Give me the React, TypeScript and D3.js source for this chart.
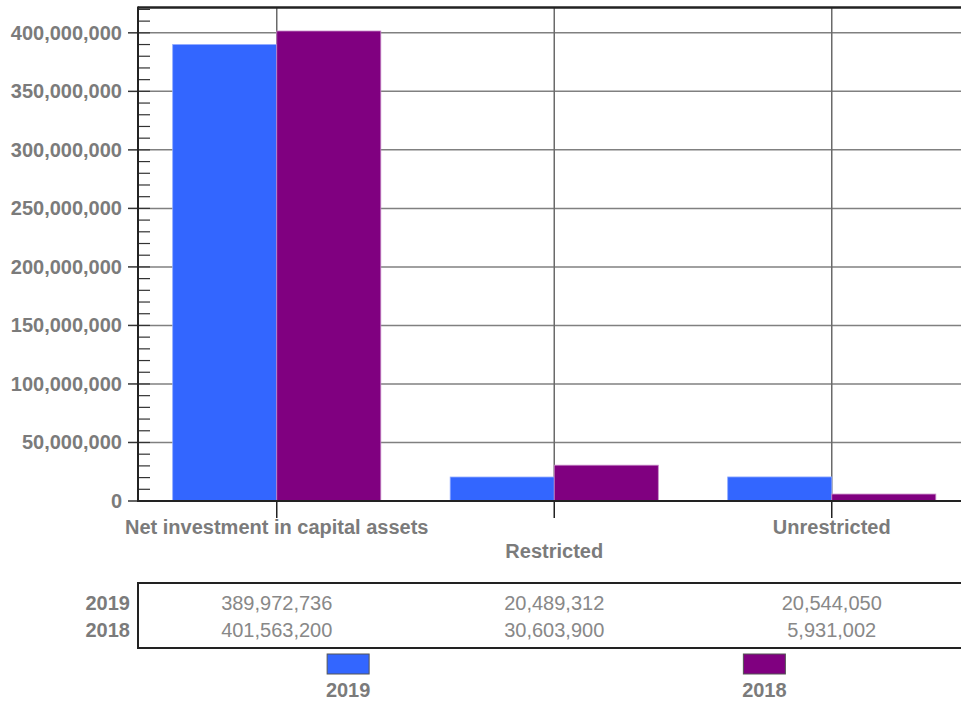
import React from "react";
import * as d3 from "d3";

const categories = ["Net investment in capital assets", "Restricted", "Unrestricted"];
const seriesNames = ["2019", "2018"];
const values2019 = [389972736, 20489312, 20544050];
const values2018 = [401563200, 30603900, 5931002];
const seriesColors = ["#3366FF", "#800080"];
const yTicks = [0, 50000000, 100000000, 150000000, 200000000, 250000000, 300000000, 350000000, 400000000];

const W = 961;
const H = 701;
const left = 138;
const top = 7.5;
const bottom = 501;
const plotRight = 970.5;
const labelColor = "#7b7b7b";
const font = "'Liberation Sans', Arial, sans-serif";

export default function App() {
  const series = [values2019, values2018];
  const maxV = d3.max(series.flat()) as number;
  const y = d3.scaleLinear().domain([0, maxV * 1.05]).range([bottom, top]);
  const x0 = d3.scaleBand<string>().domain(categories).range([left, plotRight]).paddingInner(0).paddingOuter(0);
  const groupPad = 0.125;
  const x1 = d3
    .scaleBand<string>()
    .domain(seriesNames)
    .range([x0.bandwidth() * groupPad, x0.bandwidth() * (1 - groupPad)]);
  const minorTicks = d3.range(0, maxV * 1.05, 10000000);
  const fmt = d3.format(",");
  const center = (c: string) => (x0(c) as number) + x0.bandwidth() / 2;
  const legendX = (i: number) => left + (plotRight - left) * (0.25 + i * 0.5) + 2;

  return (
    <svg
      width={W}
      height={H}
      style={{ position: "absolute", left: 0, top: 0, background: "#fff" }}
      fontFamily={font}
    >
      {/* horizontal gridlines */}
      {yTicks.map((t) => (
        <line key={"g" + t} x1={left} x2={W} y1={y(t)} y2={y(t)} stroke="#808080" strokeWidth={1.5} />
      ))}
      {/* vertical gridlines */}
      {categories.map((c) => (
        <line key={"v" + c} x1={center(c)} x2={center(c)} y1={top} y2={bottom} stroke="#6a6a6a" strokeWidth={1.5} />
      ))}
      {/* bars */}
      {categories.map((c, ci) => (
        <g key={"b" + c} transform={`translate(${x0(c)},0)`}>
          {seriesNames.map((s, si) => (
            <rect
              key={s}
              x={x1(s)}
              y={y(series[si][ci])}
              width={x1.bandwidth()}
              height={bottom - y(series[si][ci])}
              fill={seriesColors[si]}
              stroke={si === 0 ? "#8fa9ff" : "#c68ac6"}
              strokeWidth={0.8}
            />
          ))}
        </g>
      ))}
      {/* minor ticks */}
      {minorTicks.map((t) => (
        <line key={"m" + t} x1={left} x2={left + 12} y1={y(t)} y2={y(t)} stroke="#333" strokeWidth={1.2} />
      ))}
      {/* major ticks */}
      {yTicks.map((t) => (
        <line key={"t" + t} x1={left - 10} x2={left} y1={y(t)} y2={y(t)} stroke="#333" strokeWidth={1.5} />
      ))}
      {/* y labels */}
      {yTicks.map((t) => (
        <text
          key={"l" + t}
          x={122}
          y={y(t) + 7}
          textAnchor="end"
          fontSize={20}
          fontWeight="bold"
          fill={labelColor}
        >
          {fmt(t)}
        </text>
      ))}
      {/* axes */}
      <line x1={left} x2={W} y1={top} y2={top} stroke="#222" strokeWidth={2.5} />
      <line x1={left} x2={left} y1={top - 1} y2={bottom + 1} stroke="#222" strokeWidth={2} />
      <line x1={left} x2={W} y1={bottom} y2={bottom} stroke="#222" strokeWidth={2} />
      {/* x ticks & labels */}
      {categories.map((c, i) => (
        <g key={"x" + c}>
          <line x1={center(c)} x2={center(c)} y1={bottom} y2={518} stroke="#222" strokeWidth={1.5} />
          <text
            x={center(c)}
            y={i % 2 === 1 ? 558 : 534}
            textAnchor="middle"
            fontSize={20}
            fontWeight="bold"
            fill={labelColor}
          >
            {c}
          </text>
        </g>
      ))}
      {/* data table */}
      <rect x={left} y={583} width={W} height={65} fill="none" stroke="#222" strokeWidth={2} />
      {seriesNames.map((s, si) => (
        <g key={"r" + s}>
          <text x={130} y={610 + si * 27} textAnchor="end" fontSize={20} fontWeight="bold" fill={labelColor}>
            {s}
          </text>
          {categories.map((c, ci) => (
            <text key={c} x={center(c)} y={610 + si * 27} textAnchor="middle" fontSize={20} fill="#888">
              {fmt(series[si][ci])}
            </text>
          ))}
        </g>
      ))}
      {/* legend */}
      {seriesNames.map((s, si) => (
        <g key={"lg" + s}>
          <rect
            x={legendX(si) - 21}
            y={654}
            width={42}
            height={20}
            fill={seriesColors[si]}
            stroke="#555"
            strokeWidth={1}
          />
          <text x={legendX(si)} y={697} textAnchor="middle" fontSize={20} fontWeight="bold" fill={labelColor}>
            {s}
          </text>
        </g>
      ))}
    </svg>
  );
}
